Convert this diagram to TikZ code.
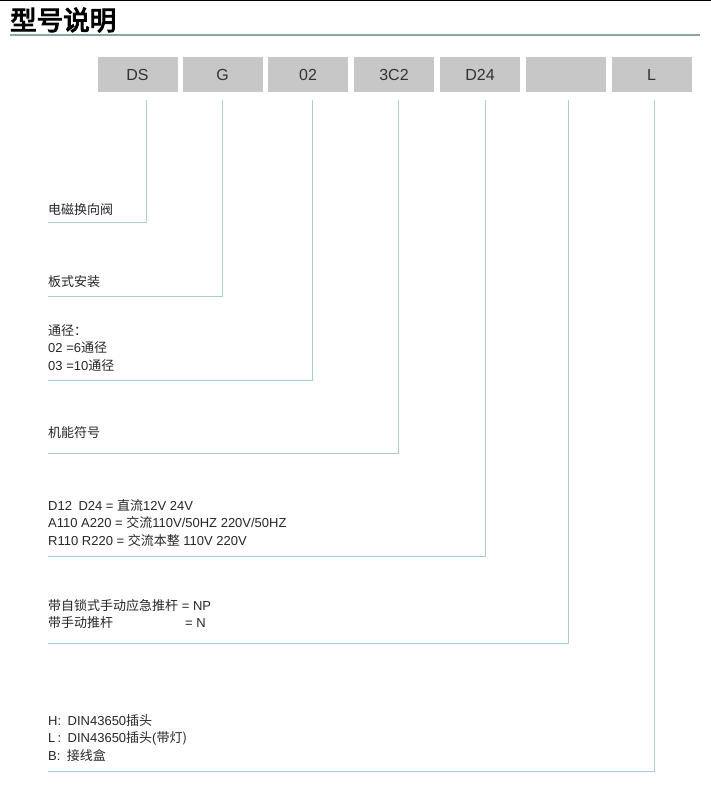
\documentclass[tikz,border=0pt]{standalone}
\usepackage{fontspec}
\setmainfont{Liberation Sans}
\newfontfamily\cjk{Noto Sans CJK SC}
\newfontfamily\cjkbold[FakeBold=4]{Noto Sans CJK SC}
\definecolor{linec}{HTML}{A9CFD0}
\begin{document}
\begin{tikzpicture}[x=1pt,y=-1pt,
  code/.style={fill=black!22,minimum width=80pt,minimum height=35pt,inner sep=0pt,font=\fontsize{16}{16}\selectfont,text=black!80},
  conn/.style={draw=linec,line width=1pt},
  lbl/.style={anchor=north west,align=left,inner sep=0pt,font=\fontsize{13}{17.5}\selectfont,text=black!85}]
\useasboundingbox (0,0) rectangle (711,800);
\fill (0,0) rectangle (711,1.5);
\node[anchor=west,inner sep=0pt,font=\cjkbold\fontsize{26.5}{26.5}\selectfont] (title) at (10,20) {型号说明};
\draw[draw=linec!80!black,line width=1.3pt] (10,35) -- (700,35);
\node[code] (b1) at (137.5,74.5) {DS};
\node[code] (b2) at (222.5,74.5) {G};
\node[code] (b3) at (308,74.5) {02};
\node[code] (b4) at (394,74.5) {3C2};
\node[code] (b5) at (480,74.5) {D24};
\node[code] (b6) at (566,74.5) {};
\node[code] (b7) at (651.5,74.5) {L};
\coordinate (c1) at (48,222); \coordinate (c2) at (48,296); \coordinate (c3) at (48,380);
\coordinate (c4) at (48,453); \coordinate (c5) at (48,556); \coordinate (c6) at (48,643); \coordinate (c7) at (48,771);
\draw[conn] (146,100) |- (c1);
\draw[conn] (222,100) |- (c2);
\draw[conn] (312,100) |- (c3);
\draw[conn] (398,100) |- (c4);
\draw[conn] (485,100) |- (c5);
\draw[conn] (568,100) |- (c6);
\draw[conn] (654,100) |- (c7);
\node[lbl] (t1) at (48,203) {\cjk 电磁换向阀};
\node[lbl] (t2) at (48,275) {\cjk 板式安装};
\node[lbl] (t3) at (48,324) {{\cjk 通径：}\\02 =6{\cjk 通径}\\03 =10{\cjk 通径}};
\node[lbl] (t4) at (48,426) {\cjk 机能符号};
\node[lbl] (t5) at (48,499) {D12\enspace D24 = {\cjk 直流}12V 24V\\A110 A220 = {\cjk 交流}110V/50HZ 220V/50HZ\\R110 R220 = {\cjk 交流本整} 110V 220V};
\node[lbl] (t6) at (48,599) {{\cjk 带自锁式手动应急推杆} = NP\\{\cjk 带手动推杆}\hspace{72pt}= N};
\node[lbl] (t7) at (48,714) {H:\enspace DIN43650{\cjk 插头}\\L\,:\enspace DIN43650{\cjk 插头}(\cjk 带灯)\\B:\enspace {\cjk 接线盒}};
\end{tikzpicture}
\end{document}
